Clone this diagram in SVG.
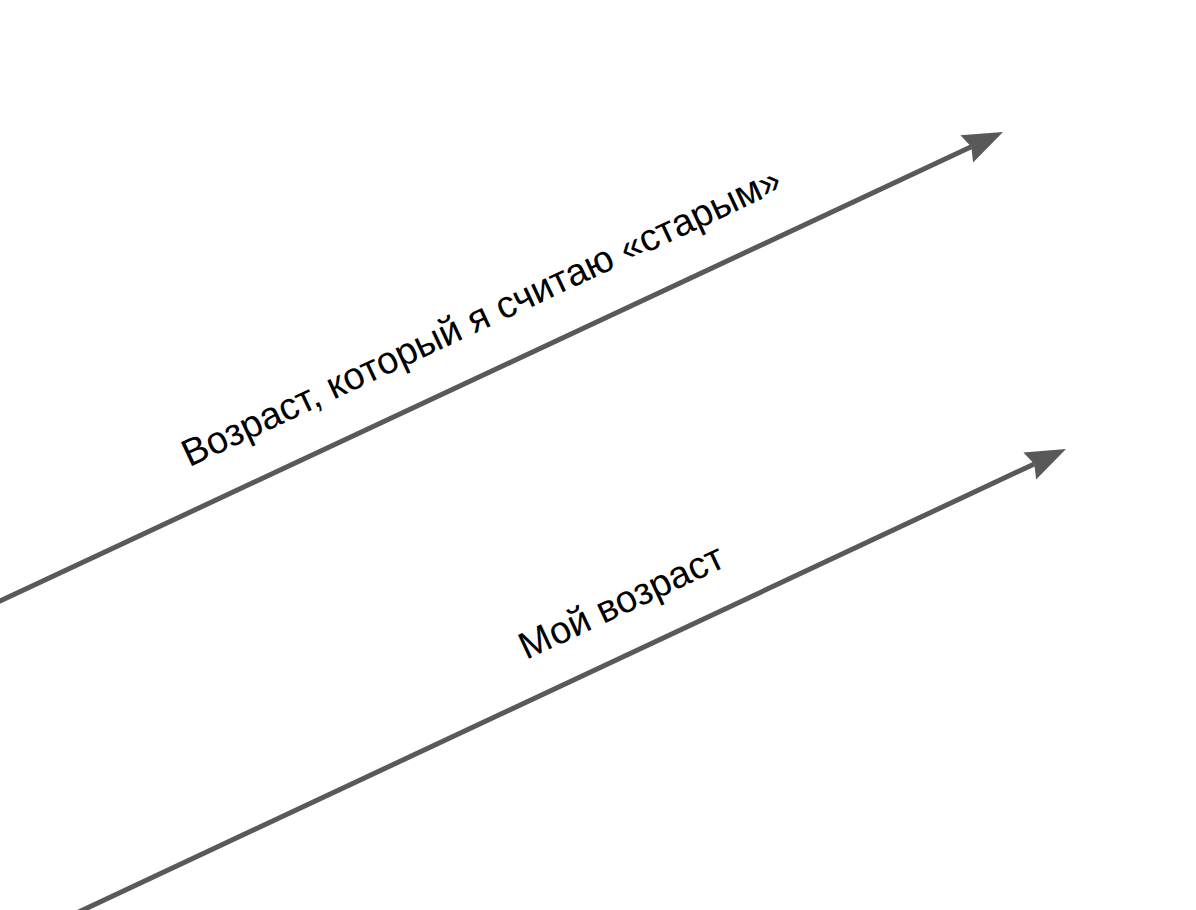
<svg xmlns="http://www.w3.org/2000/svg" width="1196" height="910" viewBox="0 0 1196 910">
<style>
.conn{stroke:#595959;stroke-width:5;fill:none;marker-end:url(#arrow)}
.lbl{font-family:"Liberation Sans",Arial,sans-serif;font-size:38px;fill:#000;text-anchor:middle}
</style>
<defs>
<marker id="arrow" markerUnits="userSpaceOnUse" markerWidth="40" markerHeight="30" refX="5" refY="15" orient="auto" overflow="visible">
<path d="M0,0 L40,15 L0,30 L5,15 Z" fill="#595959"/>
</marker>
</defs>
<rect width="1196" height="910" fill="#fff"/>
<g id="connectors">
<line class="conn" x1="-10" y1="605.7" x2="971.3" y2="146.8"/>
<line class="conn" x1="74" y1="914.2" x2="1034.3" y2="463.9"/>
</g>
<g id="label-old">
<text class="lbl" transform="translate(481,316) rotate(-25.1)" y="13.3">Возраст, который я считаю «старым»</text>
</g>
<g id="label-my">
<text class="lbl" transform="translate(621,601) rotate(-25.1)" y="13.3">Мой возраст</text>
</g>
</svg>
